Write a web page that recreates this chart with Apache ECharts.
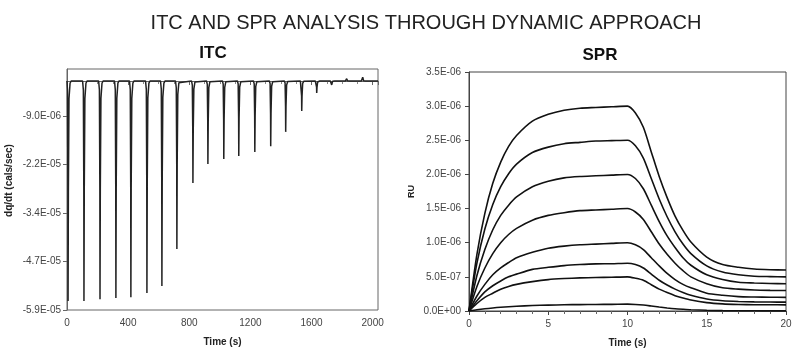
<!DOCTYPE html>
<html>
<head>
<meta charset="utf-8">
<script src="https://cdn.jsdelivr.net/npm/echarts@6/dist/echarts.min.js"></script>
<style>
  html, body { margin: 0; padding: 0; background: #fff; }
  #main { width: 796px; height: 354px; }
</style>
</head>
<body>
<div id="main"></div>
<script>
var chartDom = document.getElementById('main');
var myChart = echarts.init(chartDom);

// ITC: injection times (s) and peak heat rate (cals/sec)
var itcTimes = [7, 111, 216, 320, 418, 523, 621, 719, 824, 922, 1026, 1124, 1229, 1333, 1431, 1536, 1634, 1732, 1830, 1935];
var itcPeaks = [-5.67e-5, -5.67e-5, -5.62e-5, -5.59e-5, -5.57e-5, -5.46e-5, -5.28e-5, -4.33e-5, -2.63e-5, -2.14e-5,
                -2.01e-5, -1.93e-5, -1.83e-5, -1.68e-5, -1.31e-5, -7.7e-6, -3.1e-6, -1.0e-6, 0.6e-6, 1.0e-6];
var itcXLabels = ['0', '400', '800', '1200', '1600', '2000'];
var itcYLabels = ['-5.9E-05', '-4.7E-05', '-3.4E-05', '-2.2E-05', '-9.0E-06'];

// SPR: sensorgrams (units of 1e-7 RU) at each time point
var sprTimes = [0, 0.5, 1, 1.5, 2, 2.5, 3, 4, 5, 6, 7, 8, 9, 10,
                10.5, 11, 11.5, 12, 12.5, 13, 13.5, 14, 15, 16, 17, 18, 19, 20];
var sprCurves = [
  [0, 8.3, 14.3, 18.7, 21.8, 24.1, 25.7, 27.8, 28.8, 29.4, 29.7, 29.8, 29.9, 30.0,
   29.0, 26.9, 23.3, 19.7, 16.6, 13.9, 11.8, 10.1, 7.9, 6.8, 6.4, 6.15, 6.05, 6.0],
  [0, 7.0, 12.0, 15.6, 18.2, 20.1, 21.5, 23.2, 24.0, 24.5, 24.7, 24.9, 24.95, 25.0,
   24.2, 22.4, 19.4, 16.4, 13.8, 11.6, 9.8, 8.4, 6.6, 5.7, 5.3, 5.1, 5.04, 5.0],
  [0, 5.2, 9.0, 11.9, 14.0, 15.5, 16.7, 18.2, 19.0, 19.5, 19.7, 19.8, 19.9, 20.0,
   19.4, 17.9, 15.5, 13.1, 11.0, 9.3, 7.8, 6.7, 5.3, 4.6, 4.2, 4.1, 4.03, 4.0],
  [0, 3.6, 6.3, 8.4, 10.0, 11.2, 12.1, 13.3, 14.0, 14.4, 14.7, 14.8, 14.9, 15.0,
   14.5, 13.4, 11.6, 9.8, 8.3, 7.0, 5.9, 5.0, 4.0, 3.4, 3.2, 3.07, 3.02, 3.0],
  [0, 2.2, 3.9, 5.3, 6.3, 7.1, 7.8, 8.6, 9.2, 9.5, 9.7, 9.8, 9.9, 10.0,
   9.7, 9.0, 7.8, 6.6, 5.5, 4.6, 3.9, 3.4, 2.6, 2.3, 2.1, 2.05, 2.02, 2.0],
  [0, 1.5, 2.8, 3.7, 4.4, 5.0, 5.4, 6.1, 6.4, 6.65, 6.8, 6.9, 6.92, 7.0,
   6.8, 6.3, 5.4, 4.5, 3.8, 3.2, 2.7, 2.3, 1.76, 1.5, 1.39, 1.33, 1.31, 1.3],
  [0, 1.1, 2.0, 2.6, 3.2, 3.6, 3.9, 4.3, 4.6, 4.75, 4.85, 4.9, 4.95, 5.0,
   4.8, 4.5, 3.85, 3.2, 2.7, 2.25, 1.9, 1.6, 1.23, 1.04, 0.96, 0.92, 0.91, 0.9],
  [0, 0.18, 0.33, 0.45, 0.55, 0.63, 0.70, 0.80, 0.86, 0.91, 0.94, 0.96, 0.97, 1.0,
   0.96, 0.87, 0.73, 0.58, 0.45, 0.34, 0.26, 0.19, 0.10, 0.05, 0.035, 0.026, 0.022, 0.02]
];
var sprScale = 1e-7;
var sprXLabels = ['0', '5', '10', '15', '20'];
var sprYLabels = ['0.0E+00', '5.0E-07', '1.0E-06', '1.5E-06', '2.0E-06', '2.5E-06', '3.0E-06', '3.5E-06'];

// ITC trace: flat baseline with a sharp dip at each injection
var itcData = [[0, 0]];
itcTimes.forEach(function (t, i) {
  var p = itcPeaks[i];
  itcData.push([Math.max(t - 9, 0), 0]);
  itcData.push([Math.max(t - 4, 0), p * 0.04]);
  itcData.push([Math.max(t - 1, 0), p * 0.5]);
  itcData.push([t, p]);
  itcData.push([t + 2, p * 0.5]);
  itcData.push([t + 6, p * 0.08]);
  itcData.push([t + 13, p * 0.01]);
  itcData.push([t + 20, 0]);
});
itcData.push([2035, 0]);

var itcYMin = -5.9e-5, itcYStep = 1.25e-5;

var sprSeries = sprCurves.map(function (c) {
  return {
    type: 'line',
    xAxisIndex: 1,
    yAxisIndex: 1,
    symbol: 'none',
    smooth: 0.25,
    lineStyle: { color: '#111', width: 1.6 },
    data: sprTimes.map(function (t, i) { return [t, c[i] * sprScale]; })
  };
});

var sans = 'Liberation Sans, Arial, sans-serif';
var axisLabelStyle = { color: '#444', fontSize: 10, fontFamily: sans };
var nameStyle = { color: '#222', fontSize: 10, fontWeight: 'bold', fontFamily: sans };

var option = {
  backgroundColor: '#fff',
  animation: false,
  title: [
    {
      text: 'ITC AND SPR ANALYSIS THROUGH DYNAMIC APPROACH',
      left: 421, top: 8, textAlign: 'center',
      textStyle: { fontFamily: sans, fontWeight: 'normal', fontSize: 20, color: '#222' }
    },
    {
      text: 'ITC', left: 208, top: 40, textAlign: 'center',
      textStyle: { fontFamily: sans, fontWeight: 'bold', fontSize: 17, color: '#111' }
    },
    {
      text: 'SPR', left: 595, top: 42, textAlign: 'center',
      textStyle: { fontFamily: sans, fontWeight: 'bold', fontSize: 17, color: '#111' }
    }
  ],
  grid: [
    { left: 67, top: 69, width: 311, height: 241, show: true, borderColor: '#666', borderWidth: 1 },
    { left: 469, top: 72, width: 317, height: 239, show: true, borderColor: '#444', borderWidth: 1 }
  ],
  xAxis: [
    {
      gridIndex: 0, type: 'value', min: 0, max: 2035, interval: 400,
      name: 'Time (s)', nameLocation: 'middle', nameGap: 27, nameTextStyle: nameStyle,
      axisLine: { lineStyle: { color: '#666' } },
      axisTick: { length: 4, lineStyle: { color: '#666' } },
      minorTick: { show: true, splitNumber: 4, length: 3, lineStyle: { color: '#888' } },
      splitLine: { show: false },
      axisLabel: Object.assign({ margin: 8, showMaxLabel: false, formatter: function (v) {
        var i = Math.round(v / 400);
        return Math.abs(v - i * 400) < 1e-6 ? (itcXLabels[i] || '') : '';
      } }, axisLabelStyle)
    },
    {
      gridIndex: 1, type: 'value', min: 0, max: 20, interval: 5,
      name: 'Time (s)', nameLocation: 'middle', nameGap: 27, nameTextStyle: nameStyle,
      axisLine: { lineStyle: { color: '#444' } },
      axisTick: { length: 4, lineStyle: { color: '#444' } },
      minorTick: { show: true, splitNumber: 5, length: 3, lineStyle: { color: '#666' } },
      splitLine: { show: false },
      axisLabel: Object.assign({ margin: 8, formatter: function (v) {
        return sprXLabels[Math.round(v / 5)] || '';
      } }, axisLabelStyle)
    }
  ],
  yAxis: [
    {
      gridIndex: 0, type: 'value', min: itcYMin, max: 3.1e-6, interval: itcYStep,
      name: 'dq/dt (cals/sec)', nameLocation: 'middle', nameGap: 53,
      nameTextStyle: { color: '#222', fontSize: 10, fontWeight: 'bold', fontFamily: sans, padding: [0, 0, 0, 18] },
      axisLine: { show: true, lineStyle: { color: '#666' } },
      axisTick: { show: true, length: 4, lineStyle: { color: '#666' } },
      splitLine: { show: false },
      axisLabel: Object.assign({ margin: 6, showMaxLabel: false, formatter: function (v) {
        var i = Math.round((v - itcYMin) / itcYStep);
        return itcYLabels[i] || '';
      } }, axisLabelStyle)
    },
    {
      gridIndex: 1, type: 'value', min: 0, max: 3.5e-6, interval: 5e-7,
      name: 'RU', nameLocation: 'middle', nameGap: 53,
      nameTextStyle: { color: '#222', fontSize: 9, fontWeight: 'bold', fontFamily: sans },
      axisLine: { show: true, lineStyle: { color: '#444' } },
      axisTick: { show: true, length: 4, lineStyle: { color: '#444' } },
      splitLine: { show: false },
      axisLabel: Object.assign({ margin: 8, formatter: function (v) {
        return sprYLabels[Math.round(v / 5e-7)] || '';
      } }, axisLabelStyle)
    }
  ],
  series: [
    {
      type: 'line',
      xAxisIndex: 0,
      yAxisIndex: 0,
      symbol: 'none',
      lineStyle: { color: '#222', width: 1.5 },
      data: itcData
    }
  ].concat(sprSeries)
};

myChart.setOption(option);
window.addEventListener('resize', function () {
  myChart.resize();
});
</script>
</body>
</html>
